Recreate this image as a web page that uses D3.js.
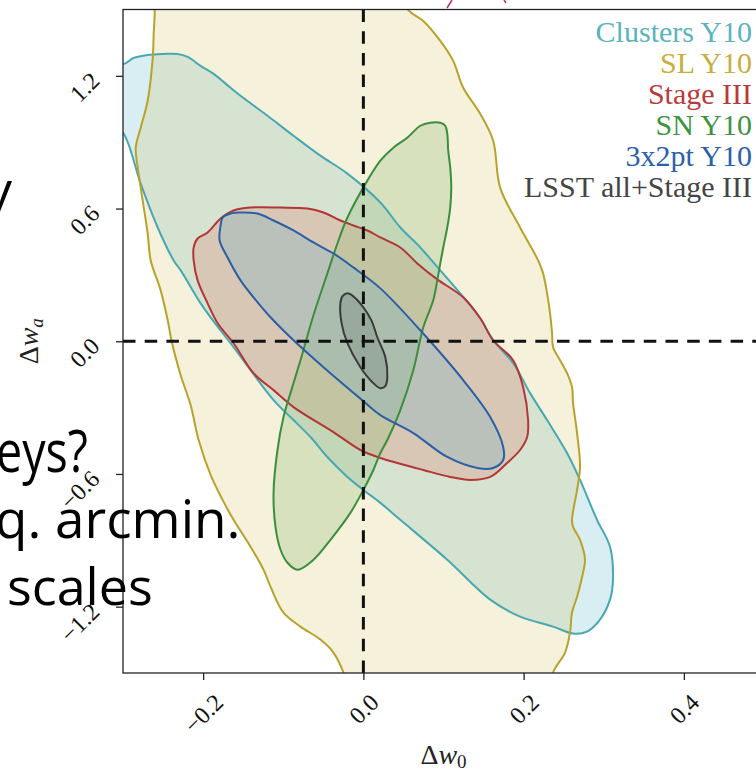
<!DOCTYPE html>
<html>
<head>
<meta charset="utf-8">
<script src="https://cdn.jsdelivr.net/npm/d3@7"></script>
<style>
  body { margin: 0; background: #fff; }
  svg { display: block; }
</style>
</head>
<body>
<div id="chart"></div>
<script>
// contour outlines, [Δw0, Δwa]
var clustersY10 = [[-0.3215,1.2676],[-0.2991,1.2541],[-0.2866,1.2812],[-0.2692,1.2947],[-0.2492,1.2992],[-0.2318,1.2992],[-0.2193,1.2857],[-0.2031,1.2451],[-0.1869,1.2090],[-0.1657,1.1459],[-0.1533,1.1098],[-0.1196,1.0195],[-0.0872,0.9293],[-0.0536,0.8391],[-0.0199,0.7579],[0.0212,0.6271],[0.0461,0.5143],[0.0710,0.4241],[0.0960,0.3203],[0.1209,0.2165],[0.1458,0.1038],[0.1620,0.0045],[0.1869,-0.0992],[0.2081,-0.2346],[0.2293,-0.3564],[0.2542,-0.5053],[0.2704,-0.6271],[0.2916,-0.8075],[0.3078,-0.9293],[0.3115,-1.0782],[0.3078,-1.1684],[0.2953,-1.2586],[0.2791,-1.3128],[0.2617,-1.3218],[0.2368,-1.2902],[0.1956,-1.2451],[0.1583,-1.1684],[0.1047,-0.9880],[0.0461,-0.8075],[0.0212,-0.7308],[0.0,-0.6722],[-0.0199,-0.6135],[-0.0449,-0.5233],[-0.0660,-0.4331],[-0.0872,-0.3564],[-0.1121,-0.2662],[-0.1408,-0.1308],[-0.1620,-0.0271],[-0.1907,0.1083],[-0.2031,0.1714],[-0.2280,0.3203],[-0.2368,0.3654],[-0.2567,0.5143],[-0.2779,0.7128],[-0.2991,0.9383],[-0.3215,1.0195]];

var slY10 = [[-0.2617,1.6286],[-0.2604,1.4932],[-0.2617,1.3894],[-0.2629,1.2812],[-0.2692,1.0872],[-0.2779,0.9654],[-0.2841,0.8752],[-0.2816,0.7850],[-0.2779,0.6947],[-0.2741,0.6045],[-0.2692,0.4872],[-0.2654,0.3654],[-0.2530,0.2301],[-0.2442,0.0947],[-0.2393,0.0],[-0.2280,-0.1534],[-0.2156,-0.2887],[-0.2056,-0.4466],[-0.1907,-0.6045],[-0.1757,-0.7173],[-0.1620,-0.8075],[-0.1408,-0.9293],[-0.1246,-1.0331],[-0.1159,-1.1098],[-0.0997,-1.2271],[-0.0785,-1.2902],[-0.0536,-1.3489],[-0.0374,-1.4075],[-0.0249,-1.4977],[-0.0162,-1.6195],[0.2330,-1.6195],[0.2368,-1.4977],[0.2517,-1.4075],[0.2579,-1.3173],[0.2604,-1.2271],[0.2667,-1.1549],[0.2741,-1.0466],[0.2766,-0.9880],[0.2704,-0.8977],[0.2617,-0.8391],[0.2604,-0.8075],[0.2667,-0.6722],[0.2704,-0.5684],[0.2667,-0.4150],[0.2617,-0.2797],[0.2604,-0.2075],[0.2542,-0.1444],[0.2455,-0.0857],[0.2368,-0.0271],[0.2355,0.0361],[0.2330,0.1263],[0.2293,0.2165],[0.2243,0.3068],[0.2181,0.3654],[0.1956,0.5143],[0.1707,0.6947],[0.1620,0.9068],[0.1458,1.0286],[0.1246,1.1459],[0.1121,1.2676],[0.0960,1.3579],[0.0748,1.4481],[0.0561,1.4977],[0.0399,1.6286]];

var stageIII = [[-0.2118,0.4241],[-0.2069,0.4647],[-0.1944,0.4917],[-0.1782,0.5549],[-0.1620,0.5910],[-0.1408,0.6045],[-0.1034,0.6045],[-0.0698,0.6000],[-0.0498,0.5820],[-0.0287,0.5459],[-0.0125,0.5233],[0.0050,0.5008],[0.0212,0.4692],[0.0461,0.4241],[0.0673,0.3519],[0.0922,0.2797],[0.1246,0.1985],[0.1458,0.1038],[0.1620,0.0045],[0.1869,-0.0857],[0.1994,-0.2075],[0.2056,-0.3564],[0.2044,-0.4331],[0.1956,-0.4917],[0.1794,-0.5504],[0.1583,-0.6135],[0.1333,-0.6271],[0.1084,-0.6135],[0.0748,-0.5820],[0.0424,-0.5504],[0.0212,-0.5278],[-0.0037,-0.4917],[-0.0374,-0.4105],[-0.0872,-0.2977],[-0.1121,-0.2210],[-0.1371,-0.1444],[-0.1620,-0.0090],[-0.1819,0.0812],[-0.1944,0.1714],[-0.2069,0.2752],[-0.2118,0.3654]];

var snY10 = [[0.0212,0.8165],[0.0374,0.8752],[0.0548,0.9203],[0.0710,0.9744],[0.0835,0.9880],[0.0960,0.9880],[0.1022,0.9744],[0.1047,0.9383],[0.1059,0.8616],[0.1084,0.7850],[0.1097,0.6947],[0.1084,0.6045],[0.1047,0.5143],[0.0997,0.4241],[0.0960,0.3519],[0.0922,0.2752],[0.0872,0.1850],[0.0748,0.0632],[0.0623,-0.1308],[0.0461,-0.3113],[0.0299,-0.4466],[0.0212,-0.5053],[0.0125,-0.5820],[0.0,-0.6722],[-0.0162,-0.7759],[-0.0411,-0.8977],[-0.0623,-0.9880],[-0.0822,-1.0331],[-0.0947,-1.0015],[-0.1034,-0.9428],[-0.1097,-0.8391],[-0.1121,-0.6857],[-0.1072,-0.4917],[-0.0997,-0.3429],[-0.0910,-0.2346],[-0.0785,-0.0857],[-0.0623,0.1173],[-0.0449,0.3068],[-0.0324,0.4421],[-0.0199,0.5594],[0.0050,0.7263]];

var x2ptY10 = [[-0.1782,0.5233],[-0.1757,0.5594],[-0.1657,0.5774],[-0.1533,0.5820],[-0.1321,0.5774],[-0.1121,0.5459],[-0.0872,0.5008],[-0.0623,0.4466],[-0.0374,0.3970],[-0.0125,0.3338],[0.0212,0.2391],[0.0710,0.0496],[0.1246,-0.1759],[0.1583,-0.3429],[0.1745,-0.4782],[0.1745,-0.5368],[0.1620,-0.5729],[0.1421,-0.5729],[0.1047,-0.5233],[0.0623,-0.4150],[0.0212,-0.3338],[0.0,-0.2707],[-0.0498,-0.1173],[-0.0872,0.0045],[-0.1159,0.1083],[-0.1371,0.1985],[-0.1533,0.2752],[-0.1695,0.3789],[-0.1794,0.4556]];

var lsstAll = [[-0.0287,0.1714],[-0.0262,0.2030],[-0.0199,0.2165],[-0.0125,0.2030],[0.0,0.1534],[0.0100,0.0947],[0.0174,0.0180],[0.0274,-0.0722],[0.0299,-0.1624],[0.0274,-0.2030],[0.0212,-0.2120],[0.0125,-0.1895],[-0.0037,-0.1173],[-0.0199,-0.0090],[-0.0274,0.0857]];

var legendLabels = ["Clusters Y10", "SL Y10", "Stage III", "SN Y10", "3x2pt Y10", "LSST all+Stage III"];
var legendColors = ["#5bb3bd", "#c8ae3c", "#b83a3a", "#3f933f", "#2b60ab", "#444444"];

var xTicks = [-0.2, 0.0, 0.2, 0.4];
var yTicks = [-1.2, -0.6, 0.0, 0.6, 1.2];

var contours = [
  { pts: clustersY10, fill: "rgba(60,170,190,0.2)",  stroke: "#48a8b2" },
  { pts: slY10,       fill: "rgba(210,190,90,0.22)", stroke: "#b9a22a" },
  { pts: stageIII,    fill: "rgba(221,147,126,0.35)", stroke: "#b33535" },
  { pts: snY10,       fill: "rgba(145,189,122,0.3)", stroke: "#3b8e3b" },
  { pts: x2ptY10,     fill: "rgba(117,177,203,0.3)", stroke: "#2a5fa5" },
  { pts: lsstAll,     fill: "rgba(90,110,100,0.25)", stroke: "#3a3a3a" }
];

var W = 756, H = 772;
var L = 123, R = 764, T = 9.5, B = 673;

var svg = d3.select("#chart").append("svg")
  .attr("width", W).attr("height", H)
  .style("font-family", "'Liberation Serif', serif");

var x = d3.scaleLinear().domain([-0.3, 0.5]).range([L, R]);
var y = d3.scaleLinear().domain([-1.5, 1.5]).range([B, T]);

svg.append("clipPath").attr("id", "plotclip")
  .append("rect").attr("x", L).attr("y", T).attr("width", R - L).attr("height", B - T);

var line = d3.line()
  .x(d => x(d[0]))
  .y(d => y(d[1]))
  .curve(d3.curveCatmullRomClosed.alpha(0.5));

var plot = svg.append("g").attr("clip-path", "url(#plotclip)");

// fills first, outlines on top
plot.selectAll(".fill")
  .data(contours)
  .join("path")
    .attr("class", "fill")
    .attr("d", d => line(d.pts))
    .attr("fill", d => d.fill)
    .attr("stroke", "none");

plot.selectAll(".edge")
  .data(contours)
  .join("path")
    .attr("class", "edge")
    .attr("d", d => line(d.pts))
    .attr("fill", "none")
    .attr("stroke", d => d.stroke)
    .attr("stroke-width", 2)
    .attr("stroke-linejoin", "round");

// fiducial lines
plot.append("line")
  .attr("x1", x(0)).attr("x2", x(0)).attr("y1", T).attr("y2", B)
  .attr("stroke", "#111").attr("stroke-width", 3).attr("stroke-dasharray", "12.5,9.2");
plot.append("line")
  .attr("x1", L).attr("x2", R).attr("y1", y(0)).attr("y2", y(0))
  .attr("stroke", "#111").attr("stroke-width", 3).attr("stroke-dasharray", "12.5,9.2");

// frame
svg.append("rect")
  .attr("x", L).attr("y", T).attr("width", R - L).attr("height", B - T)
  .attr("fill", "none").attr("stroke", "#222").attr("stroke-width", 1.3);

var fmt = d3.format(".1f");

var yAxis = svg.append("g")
  .attr("transform", "translate(" + L + ",0)")
  .call(d3.axisLeft(y).tickValues(yTicks).tickSize(7).tickSizeOuter(0).tickFormat(fmt));
yAxis.select(".domain").remove();
yAxis.selectAll(".tick line").attr("stroke", "#222").attr("stroke-width", 1.3);
yAxis.selectAll(".tick text")
  .attr("x", null).attr("dy", null)
  .attr("fill", "#111")
  .style("font-family", "'Liberation Serif', serif")
  .style("font-size", "24px")
  .attr("text-anchor", "end")
  .attr("transform", "translate(-22,6) rotate(-45)");

var xAxis = svg.append("g")
  .attr("transform", "translate(0," + B + ")")
  .call(d3.axisBottom(x).tickValues(xTicks).tickSize(7).tickSizeOuter(0).tickFormat(fmt));
xAxis.select(".domain").remove();
xAxis.selectAll(".tick line").attr("stroke", "#222").attr("stroke-width", 1.3);
xAxis.selectAll(".tick text")
  .attr("y", null).attr("dy", null)
  .attr("fill", "#111")
  .style("font-family", "'Liberation Serif', serif")
  .style("font-size", "24px")
  .attr("text-anchor", "end")
  .attr("transform", function() {
    var len = this.getComputedTextLength();
    var off = 0.707 * (len + 16) / 2;
    return "translate(" + off + ",31) rotate(-45)";
  });

// axis labels
var yl = svg.append("text")
  .attr("transform", "translate(38," + y(0) + ") rotate(-90)")
  .attr("text-anchor", "middle")
  .style("font-size", "28px").attr("fill", "#222");
yl.append("tspan").text("Δ");
yl.append("tspan").style("font-style", "italic").text("w");
yl.append("tspan").style("font-style", "italic").style("font-size", "19px").attr("dy", "5").text("a");

var xl = svg.append("text")
  .attr("x", (L + R) / 2).attr("y", 764)
  .attr("text-anchor", "middle")
  .style("font-size", "28px").attr("fill", "#222");
xl.append("tspan").text("Δ");
xl.append("tspan").style("font-style", "italic").text("w");
xl.append("tspan").style("font-size", "19px").attr("dy", "4").text("0");

// legend
svg.append("g").selectAll("text")
  .data(legendLabels)
  .join("text")
    .attr("x", 752)
    .attr("y", (d, i) => 42 + i * 31)
    .attr("text-anchor", "end")
    .style("font-size", "30px")
    .attr("fill", (d, i) => legendColors[i])
    .text(d => d);

// slide text behind the figure
var slide = svg.append("g")
  .style("font-family", "'Open Sans', sans-serif")
  .attr("fill", "#000");
slide.append("text").attr("x", -14).attr("y", 208).style("font-size", "52px").text("y");
slide.append("text").attr("x", -4).attr("y", 472).style("font-size", "58px")
  .attr("textLength", 92).attr("lengthAdjust", "spacingAndGlyphs").text("eys?");
slide.append("text").attr("x", -5).attr("y", 538).style("font-size", "53px").text("q. arcmin.");
slide.append("text").attr("x", 7).attr("y", 605).style("font-size", "52px").text("scales");

// bits of an arrow from the slide above
svg.append("path").attr("d", "M447,8 L452,0 M504,0 L506,3")
  .attr("stroke", "#b0306a").attr("stroke-width", 1.5).attr("fill", "none");
</script>
</body>
</html>
